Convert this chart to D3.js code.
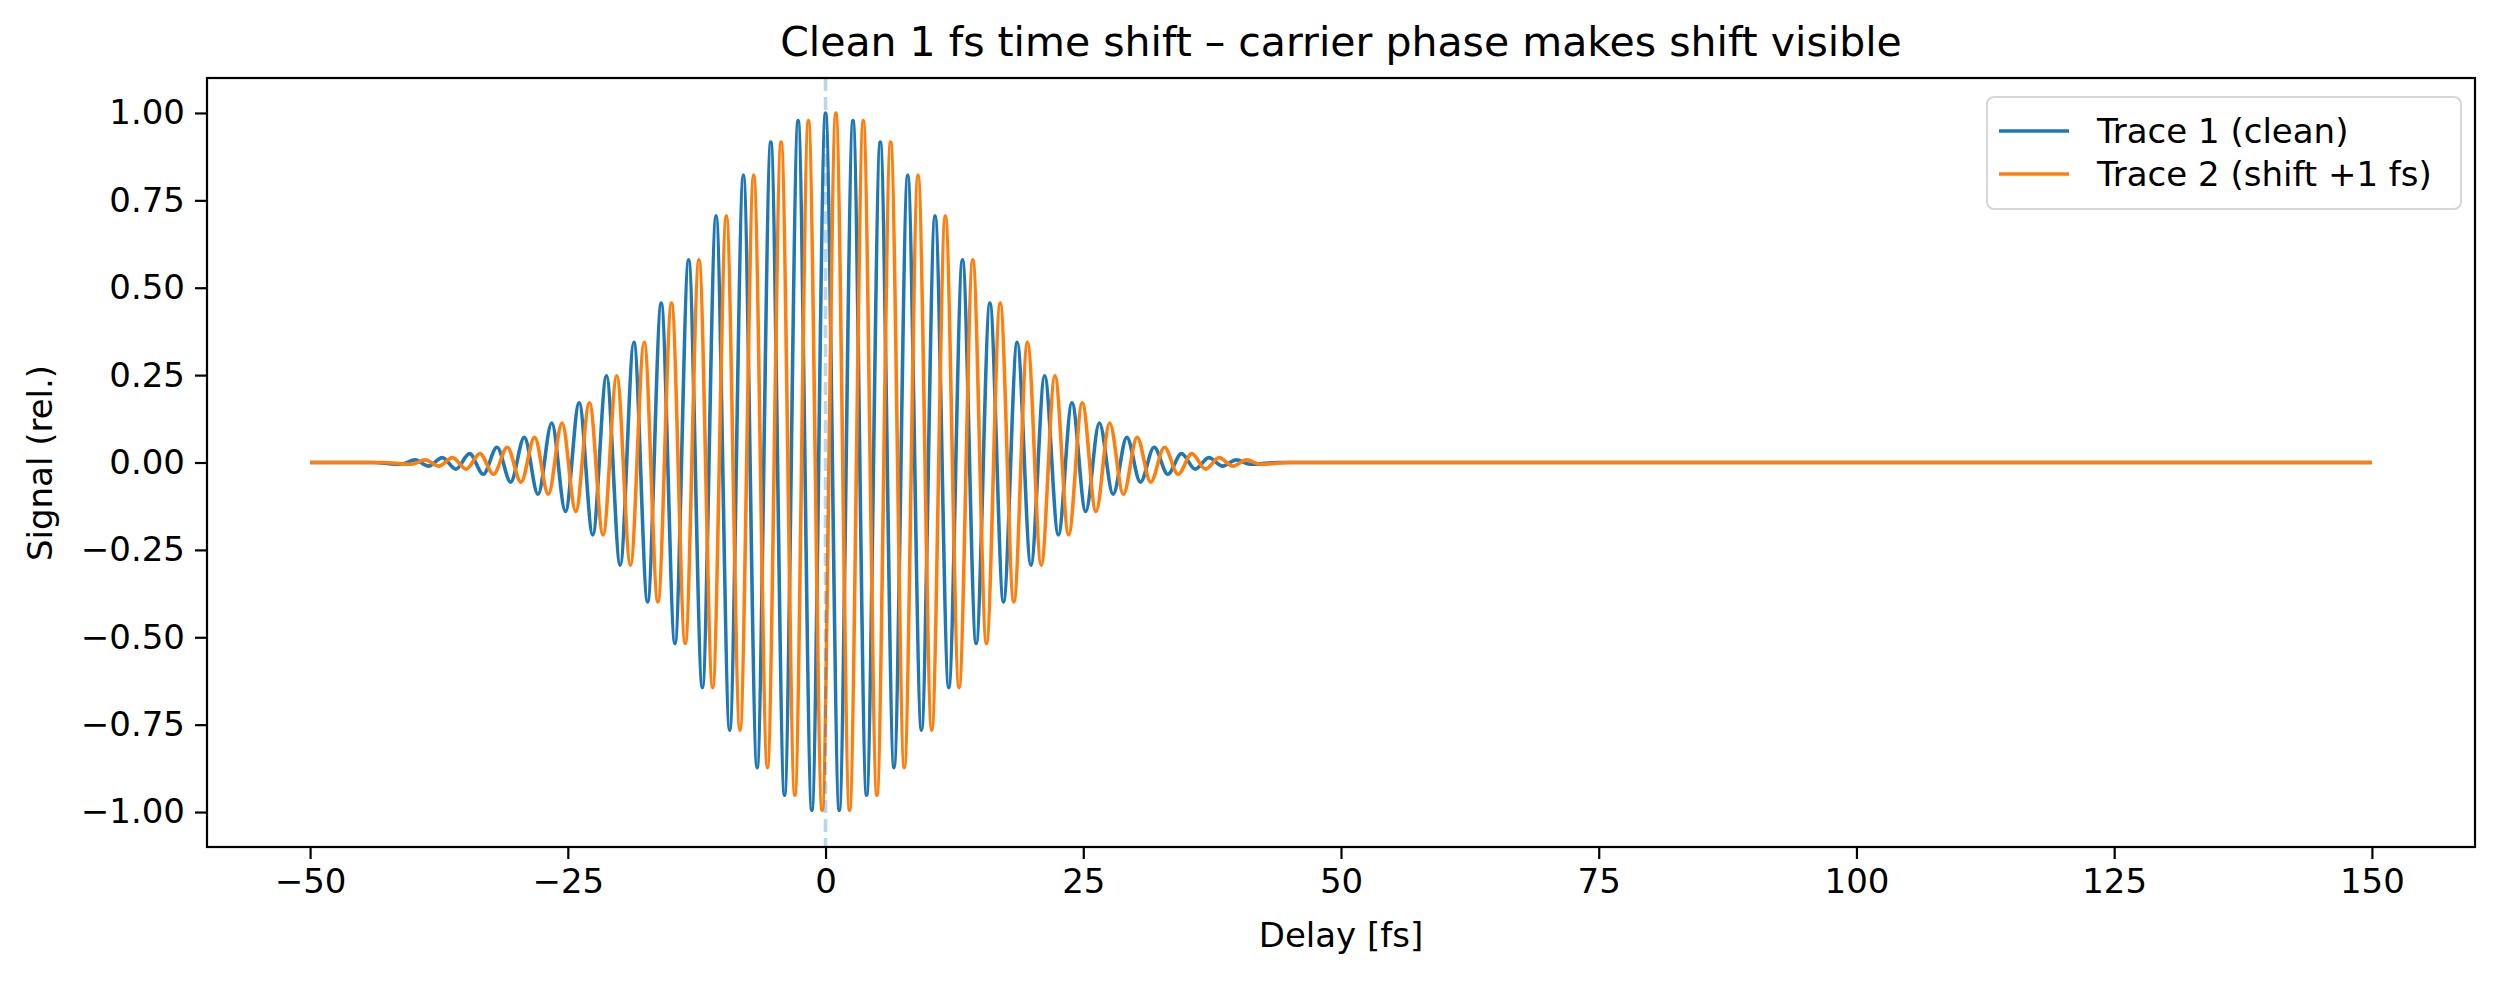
<!DOCTYPE html>
<html>
<head>
<meta charset="utf-8">
<script src="https://cdn.jsdelivr.net/npm/d3@7"></script>
<style>
  body { margin: 0; background: #fff; }
  text { font-family: "DejaVu Sans", sans-serif; }
</style>
</head>
<body>
<script>
// extrema of trace 1 (fs, rel.)
const extremaT = [-41.17, -39.84, -38.51, -37.18, -35.86, -34.53, -33.2, -31.87, -30.54, -29.22,
  -27.89, -26.56, -25.23, -23.9, -22.58, -21.25, -19.92, -18.59, -17.26, -15.94,
  -14.61, -13.28, -11.95, -10.62, -9.3, -7.97, -6.64, -5.31, -3.98, -2.66, -1.33, 0,
  1.33, 2.66, 3.98, 5.31, 6.64, 7.97, 9.3, 10.62, 11.95, 13.28, 14.61, 15.94, 17.26,
  18.59, 19.92, 21.25, 22.58, 23.9, 25.23, 26.56, 27.89, 29.22, 30.54, 31.87, 33.2,
  34.53, 35.86, 37.18, 38.51, 39.84, 41.17];
const extremaV = [-0.005, 0.0075, -0.0103, 0.014, -0.019, 0.0253, -0.0334, 0.0435, -0.056, 0.072,
  -0.091, 0.113, -0.14, 0.171, -0.207, 0.248, -0.294, 0.344, -0.399, 0.456,
  -0.518, 0.58, -0.644, 0.706, -0.766, 0.822, -0.873, 0.917, -0.952, 0.978, -0.995, 1.0,
  -0.995, 0.978, -0.952, 0.917, -0.873, 0.822, -0.766, 0.706, -0.644, 0.58, -0.518, 0.456, -0.399,
  0.344, -0.294, 0.248, -0.207, 0.171, -0.14, 0.113, -0.091, 0.072, -0.056, 0.0435, -0.0334,
  0.0253, -0.019, 0.014, -0.0103, 0.0075, -0.005];
// flat (noise-level) tails
const tailT = [-50, -44, 44, 150];
const tailV = [0, 0, 0, 0];
const shiftFs = 1;
const xTicks = [-50, -25, 0, 25, 50, 75, 100, 125, 150];
const yTicks = [-1, -0.75, -0.5, -0.25, 0, 0.25, 0.5, 0.75, 1];
const seriesNames = ['Trace 1 (clean)', 'Trace 2 (shift +1 fs)'];
const colors = ['#1f77b4', '#ff7f0e'];

const W = 2500, H = 981;
const mLeft = 207, mRight = 2475, mTop = 78, mBottom = 847;

const scaleX = d3.scaleLinear().domain([-60, 160]).range([mLeft, mRight]);
const scaleY = d3.scaleLinear().domain([-1.1, 1.1]).range([mBottom, mTop]);

const svg = d3.select('body').append('svg').attr('width', W).attr('height', H);

function trace(shift) {
  const pts = extremaT.map((t, i) => [t + shift, extremaV[i]]);
  tailT.forEach((t, i) => {
    const tt = t === -50 || t === 150 ? t : t + shift;
    pts.push([tt, tailV[i]]);
  });
  return pts.sort((a, b) => a[0] - b[0]);
}

const line = d3.line()
  .x((d) => scaleX(d[0]))
  .y((d) => scaleY(d[1]))
  .curve(d3.curveMonotoneX);

const plot = svg.append('g');
plot.append('path').attr('d', line(trace(0)))
  .attr('fill', 'none').attr('stroke', colors[0]).attr('stroke-width', 3.6);
plot.append('path').attr('d', line(trace(shiftFs)))
  .attr('fill', 'none').attr('stroke', colors[1]).attr('stroke-width', 3.6);

// reference line at zero delay
plot.append('line')
  .attr('x1', scaleX(0)).attr('x2', scaleX(0))
  .attr('y1', mTop).attr('y2', mBottom)
  .attr('stroke', '#1f77b4').attr('stroke-opacity', 0.3)
  .attr('stroke-width', 3.6).attr('stroke-dasharray', '13,6');

// axes
const gx = svg.append('g').attr('transform', `translate(0,${mBottom})`)
  .call(d3.axisBottom(scaleX).tickValues(xTicks).tickFormat((d) => d3.format('d')(d).replace('-', '\u2212')).tickSize(12).tickPadding(10));
const gy = svg.append('g').attr('transform', `translate(${mLeft},0)`)
  .call(d3.axisLeft(scaleY).tickValues(yTicks).tickFormat((d) => d3.format('.2f')(d).replace('-', '\u2212')).tickSize(12).tickPadding(10));
[gx, gy].forEach((g) => {
  g.select('.domain').remove();
  g.selectAll('line').attr('stroke', '#000').attr('stroke-width', 2.2);
  g.selectAll('text').attr('font-size', 34).attr('fill', '#000');
});

svg.append('rect')
  .attr('x', mLeft).attr('y', mTop).attr('width', mRight - mLeft).attr('height', mBottom - mTop)
  .attr('fill', 'none').attr('stroke', '#000').attr('stroke-width', 2.2);

// titles
svg.append('text').attr('x', (mLeft + mRight) / 2).attr('y', 56)
  .attr('text-anchor', 'middle').attr('font-size', 41)
  .text('Clean 1 fs time shift \u2013 carrier phase makes shift visible');
svg.append('text').attr('x', (mLeft + mRight) / 2).attr('y', 947)
  .attr('text-anchor', 'middle').attr('font-size', 34).text('Delay [fs]');
svg.append('text').attr('transform', 'translate(52,463) rotate(-90)')
  .attr('text-anchor', 'middle').attr('font-size', 34).text('Signal (rel.)');

// legend
const legend = svg.append('g').attr('transform', 'translate(1987,97)');
legend.append('rect').attr('width', 474).attr('height', 112).attr('rx', 7)
  .attr('fill', '#fff').attr('fill-opacity', 0.8).attr('stroke', '#d6d6d6').attr('stroke-width', 2);
seriesNames.forEach((name, i) => {
  const y = 34 + i * 43;
  legend.append('line').attr('x1', 12).attr('x2', 82).attr('y1', y).attr('y2', y)
    .attr('stroke', colors[i]).attr('stroke-width', 3.6);
  legend.append('text').attr('x', 110).attr('y', y).attr('dy', '0.35em')
    .attr('font-size', 34).text(name);
});
</script>
</body>
</html>
